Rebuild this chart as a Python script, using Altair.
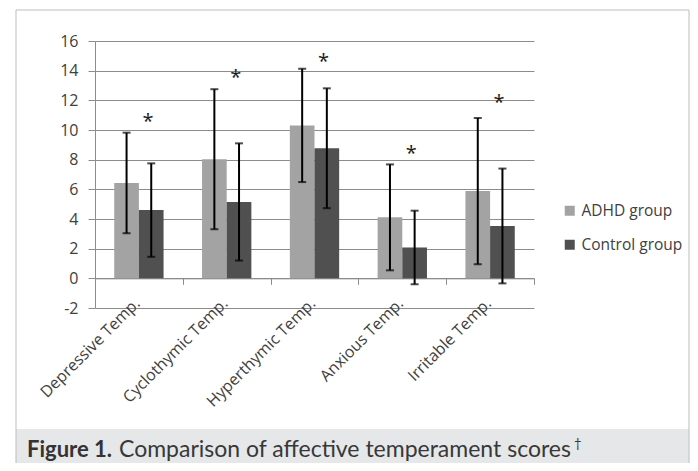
import altair as alt
import pandas as pd

categories = ["Depressive Temp.", "Cyclothymic Temp.", "Hyperthymic Temp.", "Anxious Temp.", "Irritable Temp."]
groups = ["ADHD group", "Control group"]
adhd_mean = [6.43, 8.03, 10.31, 4.11, 5.88]
adhd_sd = [3.39, 4.72, 3.82, 3.57, 4.93]
control_mean = [4.60, 5.15, 8.77, 2.08, 3.53]
control_sd = [3.15, 3.95, 4.04, 2.48, 3.87]
star_y = [10.9, 13.87, 14.95, 8.7, 12.13]
y_ticks = [-2, 0, 2, 4, 6, 8, 10, 12, 14, 16]
bar_colors = ["#a3a3a3", "#505050"]
caption_bold = "Figure 1."
caption_text = "Comparison of affective temperament scores"
caption_mark = "\u2020"

rows = []
for i, c in enumerate(categories):
    for g, m, s in ((groups[0], adhd_mean[i], adhd_sd[i]), (groups[1], control_mean[i], control_sd[i])):
        rows.append({"cat": c, "group": g, "mean": m, "lo": m - s, "hi": m + s})
df = pd.DataFrame(rows)
stars = pd.DataFrame({"cat": categories, "star": star_y})
deco = pd.DataFrame({"k": [0]})

W, H = 439, 267
GRID = "#8c8c8c"
TEXT = "#404040"

x_scale = alt.Scale(domain=categories, paddingInner=0, paddingOuter=0)
y_scale = alt.Scale(domain=[-2, 16], nice=False, zero=False)
xoff_scale = alt.Scale(domain=groups, paddingInner=0, paddingOuter=0.78)

y_axis = alt.Axis(values=y_ticks, tickCount=10, labelExpr="datum.value + ''", labelOverlap=False,
                  grid=True, gridColor=GRID, domain=True, domainColor=GRID, ticks=True,
                  tickColor=GRID, tickSize=7, labelPadding=10, labelFont="Open Sans",
                  labelFontSize=16, labelColor=TEXT)

base = alt.Chart(df)

frame = alt.Chart(deco).mark_rect(fillOpacity=0, stroke="#bdbdbd", strokeWidth=1).encode(
    x=alt.value(-79), x2=alt.value(594), y=alt.value(-31), y2=alt.value(440)
)
capbox = alt.Chart(deco).mark_rect(fill="#e6e7e9").encode(
    x=alt.value(-79), x2=alt.value(594), y=alt.value(388), y2=alt.value(440)
)

bars = base.mark_bar().encode(
    x=alt.X("cat:N", sort=categories, scale=x_scale, title=None,
            axis=alt.Axis(orient="bottom", labelAngle=-45, labelAlign="right", labelBaseline="alphabetic",
                          labelPadding=-4, labelOffset=2, ticks=False, domain=False, grid=False,
                          labelFont="Open Sans", labelFontSize=16, labelColor=TEXT, labelOverlap=False)),
    xOffset=alt.XOffset("group:N", sort=groups, scale=xoff_scale),
    y=alt.Y("mean:Q", scale=y_scale, title=None, axis=y_axis),
    color=alt.Color("group:N", sort=groups, scale=alt.Scale(domain=groups, range=bar_colors),
                    legend=alt.Legend(title=None, orient="none", legendX=467, legendY=162, padding=0,
                                      symbolType="square", symbolSize=100, symbolStrokeWidth=0,
                                      labelFont="Open Sans", labelFontSize=15.5, labelColor=TEXT,
                                      rowPadding=17, labelOffset=4)),
)

err = base.mark_rule(color="black", strokeWidth=2).encode(
    x=alt.X("cat:N", sort=categories, title=None,
            axis=alt.Axis(orient="bottom", offset=-H * 2 / 18, labels=False, ticks=True, tickBand="extent",
                          tickSize=6, tickColor=GRID, domain=True, domainColor=GRID, grid=False)),
    xOffset=alt.XOffset("group:N", sort=groups),
    y=alt.Y("lo:Q", title=None, axis=y_axis),
    y2="hi:Q",
)

cap_lo = base.mark_tick(color="black", thickness=2, size=8).encode(
    x=alt.X("cat:N", sort=categories, axis=None),
    xOffset=alt.XOffset("group:N", sort=groups),
    y=alt.Y("lo:Q", title=None, axis=y_axis),
)
cap_hi = base.mark_tick(color="black", thickness=2, size=8).encode(
    x=alt.X("cat:N", sort=categories, axis=None),
    xOffset=alt.XOffset("group:N", sort=groups),
    y=alt.Y("hi:Q", title=None, axis=y_axis),
)

star = alt.Chart(stars).mark_text(text="*", font="Open Sans", fontSize=20, dx=9, dy=11,
                                  baseline="alphabetic", color="#1a1a1a").encode(
    x=alt.X("cat:N", sort=categories, axis=None),
    y=alt.Y("star:Q", title=None, axis=y_axis),
)

cap1 = alt.Chart(deco).mark_text(text=caption_bold, font="Lato", fontWeight="bold", fontSize=22,
                                 align="left", baseline="alphabetic", color="#333333").encode(
    x=alt.value(-68), y=alt.value(416))
cap2 = alt.Chart(deco).mark_text(text=caption_text, font="Lato", fontSize=23,
                                 align="left", baseline="alphabetic", color="#383838").encode(
    x=alt.value(24), y=alt.value(416))
cap3 = alt.Chart(deco).mark_text(text=caption_mark, font="Lato", fontSize=13,
                                 align="left", baseline="alphabetic", color="#383838").encode(
    x=alt.value(479), y=alt.value(407))

chart = alt.layer(capbox, frame, bars, err, cap_lo, cap_hi, star, cap1, cap2, cap3).resolve_axis(
    x="independent"
).properties(
    width=W, height=H,
    padding={"left": 87, "top": 33, "right": 156, "bottom": 155},
    autosize=alt.AutoSizeParams(type="none"),
    background="white",
).configure_view(stroke=None)

chart.save("out.html", embed_options={"renderer": "svg", "actions": False})
